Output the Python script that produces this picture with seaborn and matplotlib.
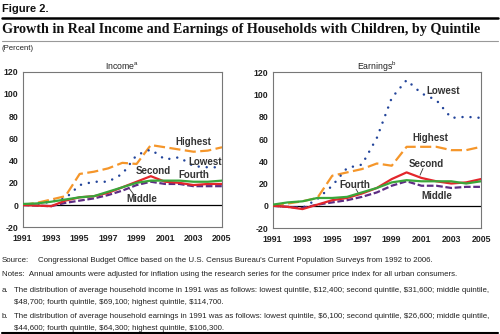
import matplotlib
matplotlib.use("Agg")
import matplotlib.pyplot as plt
import seaborn as sns
import pandas as pd
from matplotlib.lines import Line2D

sns.set_theme(style="white")
plt.rcParams['font.family'] = ['Liberation Sans', 'DejaVu Sans']
plt.rcParams['axes.unicode_minus'] = False

years = list(range(1991, 2006))
quintiles = ["Lowest", "Second", "Middle", "Fourth", "Highest"]

income_lowest  = [0, 1, 3, 6, 18, 21, 21, 28, 45, 50, 41, 43, 35, 34, 34]
income_second  = [0, -0.5, -1, 4, 7, 8, 11, 16, 21, 26, 21, 20, 18, 19, 19]
income_middle  = [0, -0.5, -1, 2, 4, 6, 9, 13, 18, 21, 19, 19, 17, 17, 17]
income_fourth  = [1, 1.5, 3, 5, 7, 8, 12, 16, 20, 22, 22, 22, 21, 21, 22]
income_highest = [0, 2, 5, 8, 28, 30, 33, 38, 37, 54, 52, 50, 48, 49, 52]

earn_lowest  = [0, -1, -2, 6, 18, 34, 37, 61, 97, 113, 101, 95, 79, 80, 79]
earn_second  = [0, -1, -3, 1, 5, 7, 11, 16, 24, 30, 25, 22, 20, 21, 24]
earn_middle  = [0, -1, -2, 1, 3, 5, 8, 12, 18, 22, 18, 18, 16, 17, 17]
earn_fourth  = [1, 3, 4, 7, 7, 8, 12, 16, 21, 23, 22, 22, 22, 20, 22]
earn_highest = [0, 2, 4, 7, 27, 30, 33, 38, 36, 53, 53, 53, 50, 50, 53]

colors = {"Lowest": "#22449a", "Second": "#e3262b", "Middle": "#5e2d84",
          "Fourth": "#3aa63a", "Highest": "#f5962a"}
zorders = {"Highest": 2, "Lowest": 2, "Middle": 3, "Second": 4, "Fourth": 5}

def make_df(lo, se, mi, fo, hi):
    rows = []
    for name, vals in zip(quintiles, [lo, se, mi, fo, hi]):
        for y, v in zip(years, vals):
            rows.append({"Year": y, "Quintile": name, "Value": v})
    return pd.DataFrame(rows)

df_income = make_df(income_lowest, income_second, income_middle, income_fourth, income_highest)
df_earn = make_df(earn_lowest, earn_second, earn_middle, earn_fourth, earn_highest)

fig = plt.figure(figsize=(5.0, 3.34), dpi=100)

ax1 = fig.add_axes([22.7/500, 1-227.3/334, (222-22.7)/500, (227.3-71.7)/334])
ax2 = fig.add_axes([272.7/500, 1-228/334, (481-272.7)/500, (228-72.3)/334])

def draw(ax, df, title, labels):
    for q in ["Highest", "Lowest", "Middle", "Second", "Fourth"]:
        sub = df[df["Quintile"] == q]
        sns.lineplot(data=sub, x="Year", y="Value", ax=ax, color=colors[q],
                     linewidth=1.6, legend=False, zorder=zorders[q],
                     dashes=False)
        line = ax.get_lines()[-1]
        if q == "Lowest":
            line.set_linewidth(1.8)
            line.set_linestyle((0, (0.01, 3.2)))
            line.set_dash_capstyle("round")
        elif q == "Middle":
            line.set_linestyle((0, (3, 1.2)))
        elif q == "Highest":
            line.set_linestyle((0, (5, 2)))
    ax.axhline(0, color="black", linewidth=0.9, zorder=1)
    ax.set_xlim(1991, 2005)
    ax.set_ylim(-20, 120)
    ax.set_xticks(list(range(1991, 2006, 2)))
    ax.set_yticks(list(range(-20, 121, 20)))
    ax.set_xlabel("")
    ax.set_ylabel("")
    ax.tick_params(axis="both", direction="in", length=3, width=0.6,
                   color="#777777", labelsize=6.3, pad=3)
    ax.tick_params(axis="x", pad=5)
    for lab in ax.get_xticklabels() + ax.get_yticklabels():
        lab.set_fontweight("bold")
        lab.set_color("#222222")
    for s in ax.spines.values():
        s.set_color("#777777")
        s.set_linewidth(0.8)
    ax.set_title(title, fontsize=6.3, pad=2, color="#222222")
    for text, x, y in labels:
        ax.text(x, y, text, fontsize=7, fontweight="bold", color="#333333",
                ha="center", va="center", zorder=6)

draw(ax1, df_income, r"Income$^{\mathregular{a}}$",
     [("Highest", 2003.0, 56.8), ("Lowest", 2003.8, 38.8), ("Second", 2000.2, 30.7),
      ("Fourth", 2003.0, 27.1), ("Middle", 1999.4, 5.5)])
ax1.plot([1998.8, 1998.45], [9.5, 15.5], color="#333333", linewidth=0.6)

draw(ax2, df_earn, r"Earnings$^{\mathregular{b}}$",
     [("Lowest", 2002.45, 103.2), ("Highest", 2001.6, 60.9), ("Second", 2001.3, 37.6),
      ("Fourth", 1996.5, 18.7), ("Middle", 2002.0, 8.8)])
ax2.plot([2001.1, 2000.9], [33.5, 27.5], color="#333333", linewidth=0.6)
ax2.plot([1996.6, 1996.75], [15.0, 11.5], color="#333333", linewidth=0.6)

# header
fig.text(2/500, 1-9/334, "Figure 2.", fontsize=8, fontweight="heavy",
         ha="left", va="center", color="#111111")
fig.add_artist(Line2D([2/500, 498/500], [1-17.5/334, 1-17.5/334], color="black",
                      linewidth=1.8))
fig.text(2/500, 1-30/334,
         "Growth in Real Income and Earnings of Households with Children, by Quintile",
         fontsize=10.2, fontweight="bold", family=["Liberation Serif", "DejaVu Serif"],
         ha="left", va="center", color="#111111")
fig.add_artist(Line2D([2/500, 498/500], [1-40.5/334, 1-40.5/334], color="#999999",
                      linewidth=0.8))
fig.text(2/500, 1-48/334, "(Percent)", fontsize=5.6, ha="left", va="center",
         color="#222222")

# footer
fs = 5.7
fig.text(2/500, 1-261/334, "Source:", fontsize=fs, ha="left", va="center", color="#222222")
fig.text(38/500, 1-261/334,
         "Congressional Budget Office based on the U.S. Census Bureau's Current Population Surveys from 1992 to 2006.",
         fontsize=fs, ha="left", va="center", color="#222222")
fig.text(2/500, 1-275/334,
         "Notes:  Annual amounts were adjusted for inflation using the research series for the consumer price index for all urban consumers.",
         fontsize=fs, ha="left", va="center", color="#222222")
fig.text(2/500, 1-290/334, "a.", fontsize=fs, ha="left", va="center", color="#222222")
fig.text(14/500, 1-290/334,
         "The distribution of average household income in 1991 was as follows: lowest quintile, \\$12,400; second quintile, \\$31,600; middle quintile,",
         fontsize=fs, ha="left", va="center", color="#222222")
fig.text(14/500, 1-302/334,
         "\\$48,700; fourth quintile, \\$69,100; highest quintile, \\$114,700.",
         fontsize=fs, ha="left", va="center", color="#222222")
fig.text(2/500, 1-316/334, "b.", fontsize=fs, ha="left", va="center", color="#222222")
fig.text(14/500, 1-316/334,
         "The distribution of average household earnings in 1991 was as follows: lowest quintile, \\$6,100; second quintile, \\$26,600; middle quintile,",
         fontsize=fs, ha="left", va="center", color="#222222")
fig.text(14/500, 1-328/334,
         "\\$44,600; fourth quintile, \\$64,300; highest quintile, \\$106,300.",
         fontsize=fs, ha="left", va="center", color="#222222")
fig.add_artist(Line2D([2/500, 498/500], [1-332.5/334, 1-332.5/334], color="black",
                      linewidth=1.5))

fig.savefig("out.png", dpi=100)
